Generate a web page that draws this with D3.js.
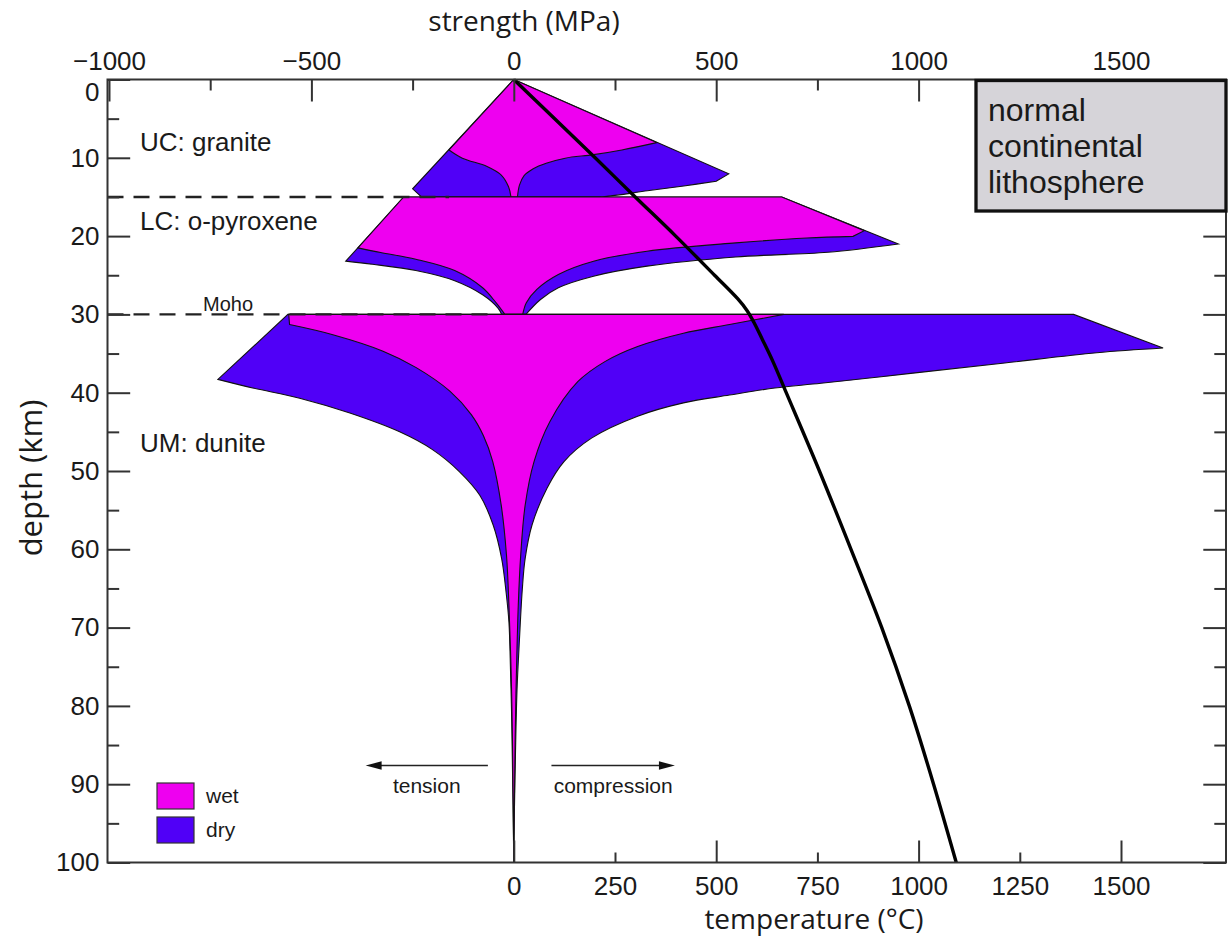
<!DOCTYPE html>
<html>
<head>
<meta charset="utf-8">
<script src="https://cdn.jsdelivr.net/npm/d3@7"></script>
<style>
  body { margin: 0; background: #fff; }
  svg text { font-family: "Liberation Sans", Arial, sans-serif; fill: #1a1a1a; }
  svg .title { font-family: "Open Sans", sans-serif; }
</style>
</head>
<body>
<div id="chart"></div>
<script>
// ---- data: [depth (km), strength (MPa)] ----
// upper crust, granite (0-15 km)
const ucWetComp = [[0,0],[8.06,353],[9.0,267],[9.6,197],[10.05,127],[10.7,80],[11.4,48],[12.3,25],[13.5,14],[15,9]];
const ucWetTens = [[0,0],[9.0,-160],[10.05,-127],[11.1,-66],[12.2,-31],[13.7,-13],[15,-7]];
const ucDryComp = [[0,0],[12.05,531],[13.0,500],[13.6,420],[14.2,330],[14.7,265],[15,215]];
const ucDryTens = [[0,0],[13.96,-250],[15,-228]];
// lower crust, o-pyroxene (15-30 km)
const lcWetComp = [[15,662],[19.3,866],[20.03,838],[20.24,724],[20.87,548],[21.93,329],[23.21,197],[24.9,110],[26.8,57],[28.5,31],[30,22]];
const lcWetTens = [[15,-272],[21.5,-385],[22.1,-329],[22.95,-242],[24.4,-146],[26.6,-77],[28.5,-44],[30,-22]];
const lcDryComp = [[15,662],[21.0,950],[22.06,776],[22.66,548],[23.84,329],[25.12,197],[26.6,110],[28.1,66],[30,30]];
const lcDryTens = [[15,-272],[23.2,-415],[23.6,-349],[24.4,-242],[25.7,-146],[27.5,-77],[29.2,-39],[30,-30]];
// upper mantle, dunite (30-100 km)
const umWetComp = [[30,667],[31.3,533],[32.4,419],[34.1,306],[36.0,226],[38.6,158],[43.7,89],[48.8,50],[54.4,28],[60.8,17],[67.2,11],[75.7,6.5],[84.3,3.3],[100,0]];
const umWetTens = [[30,-556],[31.3,-554],[32.6,-447],[34.7,-323],[36.8,-241],[39.8,-158],[42.8,-105],[45.5,-75],[48.8,-52],[54.4,-31],[60.8,-18],[67.2,-12],[75.7,-6.6],[84.3,-3.3],[100,0]];
const umDryComp = [[30,1383],[34.3,1604],[34.9,1440],[36.2,1213],[37.5,986],[38.8,759],[39.4,645],[40.3,533],[41.3,419],[43.0,306],[45.8,192],[48.8,124],[52.2,82],[56.9,45],[61.2,28],[65.1,21],[71.5,14],[77.9,8],[86.4,4],[95,1],[100,0]];
const umDryTens = [[30,-558],[38.3,-731],[39.4,-645],[40.7,-529],[42.6,-405],[45.0,-282],[47.3,-200],[50.1,-134],[53.1,-84],[56.9,-51],[61.2,-30],[65.5,-19],[69.3,-12],[75.7,-8],[82.1,-5],[90.7,-2.5],[100,0]];

// geotherm
const geoDepth = [0, 5, 10, 15, 20, 25, 28.0, 29.5, 31.0, 33.2, 36, 40, 50, 60, 70, 80, 90, 100];
const geoTemp  = [0, 101, 201, 300, 400, 496, 553, 576, 593, 614, 640, 673, 755, 833, 909, 977, 1037, 1093];

// layer boundaries and names
const boundaryDepths = [15, 30];
const layerNames = ["UC: granite", "LC: o-pyroxene", "UM: dunite"];

// ticks
const depthMajor = d3.range(0, 101, 10);
const depthMinor = d3.range(5, 100, 10);
const strengthMajor = [-1000, -500, 0, 500, 1000, 1500];
const strengthMinor = [-750, -250, 250, 750, 1250];
const tempMajor = [0, 500, 1000, 1500];
const tempMinor = [250, 750, 1250];

const legendItems = ["wet", "dry"];
const boxLines = ["normal", "continental", "lithosphere"];

// ---- layout ----
const W = 1231, H = 940;
const frame = {left: 107.5, right: 1226, top: 79.5, bottom: 862.5};
const wetColor = "#ee00f0", dryColor = "#5000f7";
const fmt = d3.format("d");

const svg = d3.select("#chart").append("svg")
    .attr("width", W).attr("height", H);

const x = d3.scaleLinear().domain([-1000, 1500]).range([109, 1121]);
const t = d3.scaleLinear().domain([0, 1500]).range([x(0), x(1500)]);
const y = d3.scaleLinear().domain([0, 100]).range([frame.top, frame.bottom]);

// ---- envelopes ----
const pt = d => [x(d[1]), y(d[0])];
const lin = d3.line();
const smooth = d3.line().curve(d3.curveCatmullRom.alpha(0.5));

// comp/tens run top to bottom; the first n points of each are joined straight (brittle part)
function bandPath(comp, tens, nc, nt) {
    const segs = [lin([pt(tens[0]), pt(comp[0])])];
    if (nc > 1) segs.push(lin(comp.slice(0, nc).map(pt)));
    if (comp.length > nc) segs.push(smooth(comp.slice(nc - 1).map(pt)));
    segs.push(lin([pt(comp[comp.length - 1]), pt(tens[tens.length - 1])]));
    const rev = tens.slice().reverse();
    const k = tens.length - nt;
    if (tens.length > nt) segs.push(smooth(rev.slice(0, k + 1).map(pt)));
    if (nt > 1) segs.push(lin(rev.slice(k).map(pt)));
    return segs.map((s, i) => i ? "L" + s.slice(1) : s).join("") + "Z";
}

const bands = [
    {comp: ucDryComp, tens: ucDryTens, nc: 3, nt: 2, fill: dryColor},
    {comp: ucWetComp, tens: ucWetTens, nc: 2, nt: 2, fill: wetColor},
    {comp: lcDryComp, tens: lcDryTens, nc: 2, nt: 2, fill: dryColor},
    {comp: lcWetComp, tens: lcWetTens, nc: 3, nt: 2, fill: wetColor},
    {comp: umDryComp, tens: umDryTens, nc: 2, nt: 2, fill: dryColor},
    {comp: umWetComp, tens: umWetTens, nc: 1, nt: 2, fill: wetColor}
];

svg.append("g").selectAll("path")
    .data(bands)
    .join("path")
    .attr("d", b => bandPath(b.comp, b.tens, b.nc, b.nt))
    .attr("fill", b => b.fill)
    .attr("stroke", "#111")
    .attr("stroke-width", 1.1)
    .attr("stroke-linejoin", "miter");

// layer boundaries (dashed)
const dashEnd = [-160, -50];
svg.append("g").selectAll("line")
    .data(boundaryDepths)
    .join("line")
    .attr("x1", frame.left).attr("x2", (d, i) => x(dashEnd[i]))
    .attr("y1", d => y(d)).attr("y2", d => y(d))
    .attr("stroke", "#222").attr("stroke-width", 2.4)
    .attr("stroke-dasharray", "16,10");

// geotherm
const geo = geoDepth.map((d, i) => [d, geoTemp[i]]);
svg.append("path")
    .datum(geo)
    .attr("fill", "none")
    .attr("stroke", "#000")
    .attr("stroke-width", 3.4)
    .attr("d", d3.line().x(d => t(d[1])).y(d => y(d[0])).curve(d3.curveCatmullRom.alpha(0.5)));

// ---- frame and axes ----
svg.append("rect")
    .attr("x", frame.left).attr("y", frame.top)
    .attr("width", frame.right - frame.left).attr("height", frame.bottom - frame.top)
    .attr("fill", "none").attr("stroke", "#333").attr("stroke-width", 2);

function styleAxis(g) {
    g.select(".domain").remove();
    g.selectAll(".tick line").attr("stroke", "#333").attr("stroke-width", 2);
    g.attr("font-family", null).attr("font-size", 26);
    g.selectAll("text").attr("fill", "#1a1a1a");
}

svg.append("g").attr("transform", `translate(0,${frame.top})`)
    .call(d3.axisTop(x).tickValues(strengthMajor).tickSize(-22).tickPadding(9.5).tickFormat(fmt))
    .call(styleAxis);
svg.append("g").attr("transform", `translate(0,${frame.top})`)
    .call(d3.axisTop(x).tickValues(strengthMinor).tickSize(-11).tickFormat(""))
    .call(styleAxis);

svg.append("g").attr("transform", `translate(${frame.left},0)`)
    .call(d3.axisLeft(y).tickValues(depthMajor).tickSize(-22.7).tickPadding(8).tickFormat(fmt))
    .call(styleAxis)
    .call(g => g.selectAll(".tick text").filter(d => d === 0).attr("y", 13));
svg.append("g").attr("transform", `translate(${frame.left},0)`)
    .call(d3.axisLeft(y).tickValues(depthMinor).tickSize(-11.7).tickFormat(""))
    .call(styleAxis);

svg.append("g").attr("transform", `translate(${frame.right},0)`)
    .call(d3.axisRight(y).tickValues(depthMajor).tickSize(-22.7).tickFormat(""))
    .call(styleAxis);
svg.append("g").attr("transform", `translate(${frame.right},0)`)
    .call(d3.axisRight(y).tickValues(depthMinor).tickSize(-11.7).tickFormat(""))
    .call(styleAxis);

svg.append("g").attr("transform", `translate(0,${frame.bottom})`)
    .call(d3.axisBottom(t).tickValues(tempMajor).tickSize(-22).tickPadding(14).tickFormat(fmt))
    .call(styleAxis);
svg.append("g").attr("transform", `translate(0,${frame.bottom})`)
    .call(d3.axisBottom(t).tickValues(tempMinor).tickSize(-10).tickPadding(14).tickFormat(fmt))
    .call(styleAxis);

// axis titles
svg.append("text").attr("class", "title")
    .attr("x", 524).attr("y", 31).attr("text-anchor", "middle")
    .attr("font-size", 28).text("strength (MPa)");
svg.append("text").attr("class", "title")
    .attr("x", 814).attr("y", 929).attr("text-anchor", "middle")
    .attr("font-size", 28).text("temperature (°C)");
svg.append("text").attr("class", "title")
    .attr("transform", "translate(42,478) rotate(-90)")
    .attr("text-anchor", "middle")
    .attr("font-size", 31).text("depth (km)");

// layer labels
const layerLabelY = [151, 230, 452];
svg.append("g").selectAll("text")
    .data(layerNames)
    .join("text")
    .attr("x", 140).attr("y", (d, i) => layerLabelY[i])
    .attr("font-size", 26)
    .text(d => d);

svg.append("text").attr("x", 203).attr("y", 311)
    .attr("font-size", 20).text("Moho");

// tension / compression arrows
const arrowY = 765.5;
const arrows = [
    {from: x(-64), to: x(-366), label: "tension"},
    {from: x(93), to: x(398), label: "compression"}
];
const ag = svg.append("g").selectAll("g").data(arrows).join("g");
ag.append("line")
    .attr("x1", d => d.from).attr("x2", d => d.to + Math.sign(d.from - d.to) * 10)
    .attr("y1", arrowY).attr("y2", arrowY)
    .attr("stroke", "#222").attr("stroke-width", 1.6);
ag.append("path")
    .attr("d", d => {
        const s = Math.sign(d.from - d.to);
        return `M${d.to},${arrowY}L${d.to + s * 16},${arrowY - 4.2}L${d.to + s * 16},${arrowY + 4.2}Z`;
    })
    .attr("fill", "#111");
ag.append("text")
    .attr("x", d => (d.from + d.to) / 2).attr("y", 792.5)
    .attr("text-anchor", "middle").attr("font-size", 21)
    .text(d => d.label);

// legend
const lg = svg.append("g").selectAll("g").data(legendItems).join("g")
    .attr("transform", (d, i) => `translate(157,${783 + i * 34})`);
lg.append("rect").attr("width", 37).attr("height", 26)
    .attr("fill", (d, i) => i ? dryColor : wetColor)
    .attr("stroke", "#333").attr("stroke-width", 1.2);
lg.append("text").attr("x", 49).attr("y", 20)
    .attr("font-size", 21).text(d => d);

// info box
svg.append("rect")
    .attr("x", 976).attr("y", 80.5).attr("width", 250).attr("height", 130.5)
    .attr("fill", "#d6d4d9").attr("stroke", "#111").attr("stroke-width", 3.3);
svg.append("g").selectAll("text").data(boxLines).join("text")
    .attr("x", 988).attr("y", (d, i) => 121 + i * 36)
    .attr("font-size", 32).attr("fill", "#222")
    .text(d => d);
</script>
</body>
</html>
